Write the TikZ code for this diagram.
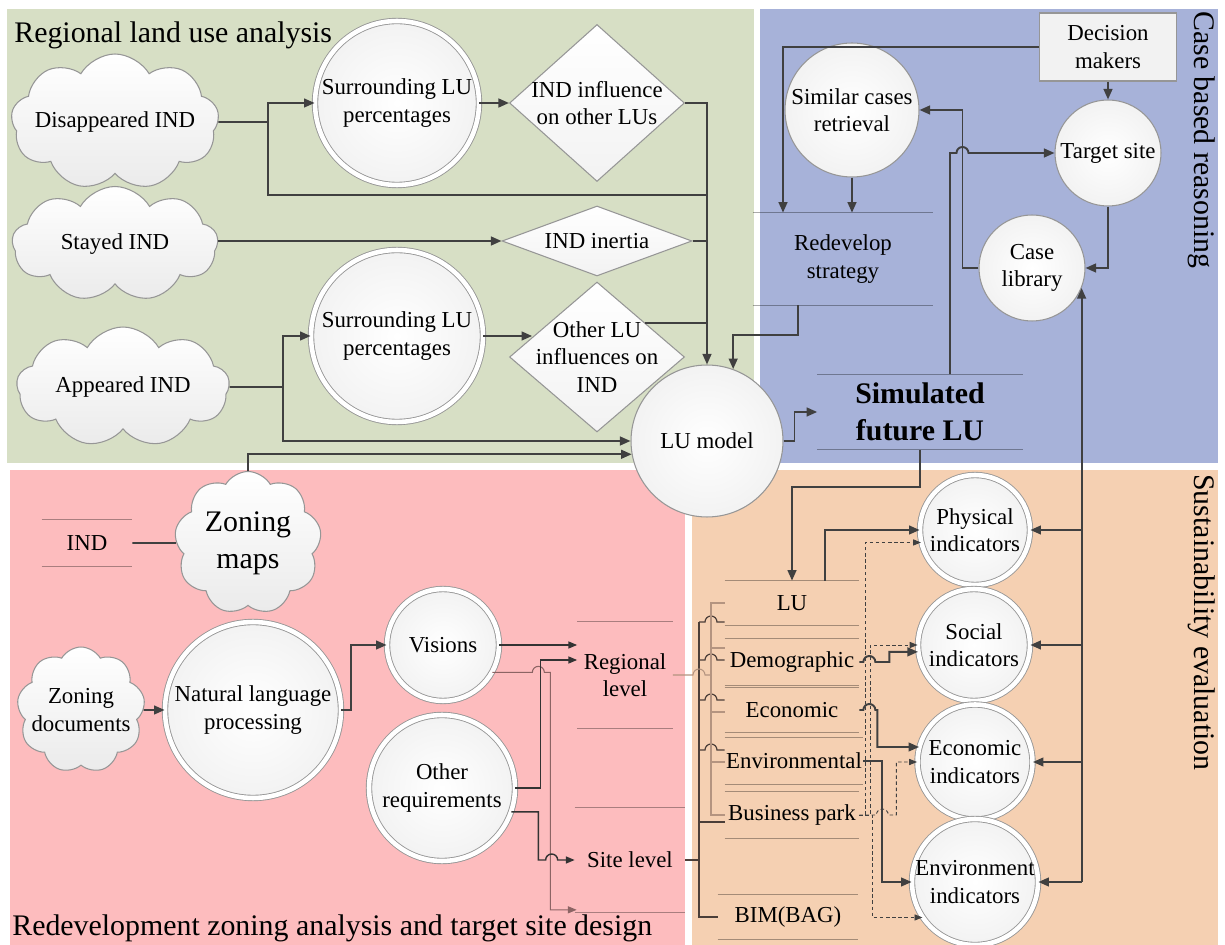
\documentclass[tikz,border=0pt]{standalone}
\usepackage{fontspec}
\setmainfont{Liberation Serif}
\usetikzlibrary{shapes.geometric,shapes.symbols,arrows.meta,calc}

\definecolor{bggreen}{RGB}{215,223,197}
\definecolor{bgblue}{RGB}{167,178,217}
\definecolor{bgpink}{RGB}{253,188,190}
\definecolor{bgpeach}{RGB}{245,208,178}
\definecolor{rim}{RGB}{150,150,150}
\definecolor{ink}{RGB}{64,64,64}
\definecolor{faint}{RGB}{180,148,128}
\definecolor{dim}{RGB}{75,62,56}
\definecolor{rose}{RGB}{140,100,100}

\newcommand\bodyfs{\fontsize{13}{15.5}\selectfont}
\newcommand\headfs{\fontsize{17}{21}\selectfont}
% two rules above and below a data-store node
\newcommand\storelines[1]{\draw[storeln] (#1.north west) -- (#1.north east) (#1.south west) -- (#1.south east);}

\begin{document}
\begin{tikzpicture}[x=0.02cm,y=-0.02cm,
  paneltitle/.style={font=\headfs, inner sep=0pt},
  lbl/.style={align=center, font=\bodyfs, inner sep=0pt},
  ring/.style={circle, draw=rim, line width=0.5pt, double=white, double distance=2.6pt,
               inner color=white, outer color=black!5, inner sep=0pt},
  disc/.style={circle, draw=rim, line width=0.6pt, inner color=white, outer color=black!5, inner sep=0pt},
  dia/.style={diamond, draw=rim, line width=0.6pt, top color=white, bottom color=black!5, inner sep=0pt},
  puff/.style={cloud, cloud puffs=9, cloud puff arc=120, cloud ignores aspect, draw=rim,
               line width=0.6pt, top color=white, bottom color=black!8, inner sep=0pt},
  store/.style={rectangle, inner sep=0pt, align=center, font=\bodyfs},
  storeln/.style={draw=black, opacity=0.33, line width=0.6pt},
  conn/.style={draw=ink, line width=1.1pt},
  arr/.style={conn, -{Triangle[length=6pt,width=5pt]}},
  parr/.style={draw=black!80, line width=0.8pt, -{Triangle[length=5pt,width=4pt]}},
  farr/.style={draw=rose, line width=0.6pt, -{Triangle[length=5pt,width=4pt]}},
  sconn/.style={draw=dim, line width=0.7pt},
  lconn/.style={draw=faint, line width=0.6pt},
  darr/.style={draw=ink, line width=0.5pt, dash pattern=on 2pt off 1.5pt, -{Triangle[length=4.5pt,width=3.5pt]}},
]
\fill[white] (0,0) rectangle (1225,945);
\useasboundingbox (0,0) rectangle (1225,945);

% panels
\fill[bggreen] (7,9) rectangle (754,463);
\fill[bgblue] (760,9) rectangle (1218,463);
\fill[bgpink] (10,470) rectangle (685,945);
\fill[bgpeach] (692,470) rectangle (1218,945);

% panel titles
\node[paneltitle, anchor=base west] (hra) at (14,43) {Regional land use analysis};
\node[paneltitle, anchor=base west] (hrz) at (12,935) {Redevelopment zoning analysis and target site design};
\node[paneltitle, anchor=base west, rotate=-90] (hcb) at (1194,11) {Case based reasoning};
\node[paneltitle, anchor=base west, rotate=-90] (hse) at (1194,474) {Sustainability evaluation};

% clouds
\node[puff, minimum width=4.16cm, minimum height=2.72cm, label={[lbl]center:Disappeared IND}] (dis) at (115,122) {};
\node[puff, minimum width=4.12cm, minimum height=2.3cm, label={[lbl]center:Stayed IND}] (sty) at (115,244) {};
\node[puff, minimum width=4.26cm, minimum height=2.4cm, label={[lbl]center:Appeared IND}] (app) at (123,387) {};
\node[puff, minimum width=2.94cm, minimum height=2.86cm, label={[lbl,font=\headfs]center:{Zoning\\maps}}] (zmap) at (248,543) {};
\node[puff, minimum width=2.56cm, minimum height=2.52cm, label={[lbl]center:{Zoning\\documents}}] (zdoc) at (81,710) {};

% circles
\node[ring, minimum size=3.28cm, label={[lbl]center:{Surrounding LU\\percentages}}] (sur1) at (397,103) {};
\node[ring, minimum size=3.44cm, label={[lbl]center:{Surrounding LU\\percentages}}] (sur2) at (397,336) {};
\node[disc, minimum size=2.68cm, label={[lbl]center:{Similar cases\\retrieval}}] (sim) at (852,110) {};
\node[disc, minimum size=2.12cm, label={[lbl]center:Target site}] (tgt) at (1108,153) {};
\node[disc, minimum size=2.12cm, label={[lbl]center:{Case\\library}}] (clib) at (1032,268) {};
\node[ring, minimum size=2.2cm, label={[lbl]center:{Physical\\indicators}}] (phy) at (975,530) {};
\node[ring, minimum size=2.24cm, label={[lbl]center:{Social\\indicators}}] (soc) at (974,645) {};
\node[ring, minimum size=2.3cm, label={[lbl]center:{Economic\\indicators}}] (eco) at (975,762) {};
\node[ring, minimum size=2.52cm, label={[lbl]center:{Environment\\indicators}}] (env) at (975,882) {};
\node[ring, minimum size=3.52cm, label={[lbl]center:{Natural language\\processing}}] (nlp) at (253,710) {};
\node[ring, minimum size=2.24cm, label={[lbl]center:Visions}] (vis) at (443,645) {};
\node[ring, minimum size=2.92cm, label={[lbl]center:{Other\\requirements}}] (oreq) at (442,788) {};

% decisions
\node[dia, minimum width=3.5cm, minimum height=3.14cm, label={[lbl]center:{IND influence\\on other LUs}}] (dinf) at (597,103) {};
\node[dia, minimum width=3.8cm, minimum height=1.4cm, label={[lbl]center:IND inertia}] (dine) at (597,241) {};
\node[dia, minimum width=3.5cm, minimum height=3.0cm, label={[lbl]center:{Other LU\\influences on\\IND}}] (doth) at (597,357) {};

% external entity
\node[rectangle, draw=rim, fill=black!5, line width=0.6pt, minimum width=2.74cm, minimum height=1.36cm,
      align=center, font=\bodyfs] (dm) at (1108,47) {Decision\\makers};

% data stores
\node[store, minimum width=3.6cm, minimum height=1.84cm] (rds) at (843,259) {Redevelop\\strategy};
\node[store, minimum width=4.1cm, minimum height=1.5cm, font=\headfs\bfseries] (sfl) at (920,412) {Simulated\\future LU};
\node[store, minimum width=1.8cm, minimum height=0.92cm] (ind) at (87,543) {IND};
\node[store, minimum width=1.9cm, minimum height=2.12cm] (rgl) at (625,675) {Regional\\level};
\node[store, minimum width=2.2cm, minimum height=2.1cm] (stl) at (630,860) {Site level};
\node[store, minimum width=2.68cm, minimum height=0.88cm] (slu) at (792,603) {LU};
\node[store, minimum width=2.68cm, minimum height=0.92cm] (sdem) at (792,662) {Demographic};
\node[store, minimum width=2.68cm, minimum height=0.9cm] (seco) at (792,710) {Economic};
\node[store, minimum width=2.76cm, minimum height=0.94cm] (senv) at (794,761) {Environmental};
\node[store, minimum width=2.68cm, minimum height=0.92cm] (sbp) at (792,815) {Business park};
\node[store, minimum width=2.8cm, minimum height=0.9cm] (sbim) at (788,917) {BIM(BAG)};
\foreach \s in {rds,sfl,ind,rgl,stl,slu,sdem,seco,senv,sbp,sbim} {\storelines{\s}}

% LU model sits across all panels
\node[disc, minimum size=3.04cm, label={[lbl]center:LU model}] (lum) at (707,441) {};

% regional land use flows
\coordinate (jd) at (268,122);
\draw[conn] (dis.east) -- (jd);
\draw[arr] (jd) |- (sur1.west);
\draw[conn] (jd) |- (lum.north |- 0,195);
\draw[arr] (sur1.east) -- (dinf.west);
\draw[arr] (dinf.east) -| (lum.north);
\draw[arr] (sty.east |- dine.west) -- (dine.west);
\draw[conn] (dine.east) -- (dine.east -| lum.north);
\draw[conn] (doth.35) -- (doth.35 -| lum.north);
\coordinate (ja) at (283,387);
\draw[conn] (app.east) -- (ja);
\draw[arr] (ja) |- (sur2.west);
\draw[arr] (ja) |- (lum.west);
\draw[arr] (sur2.east) -- (sur2.east -| doth.163);
\draw[arr] (zmap.north) |- (lum.190);
\draw[conn] (ind.east) -- (zmap.west);

% case based reasoning flows
\draw[arr] (dm.west) -| ($(rds.north)+(-60,0)$);
\draw[arr] (sim.south) -- (sim.south |- rds.north);
\draw[arr] (dm.south) -- (tgt.north);
\draw[arr] (tgt.south) |- (clib.east);
\draw[arr] (clib.west) -- ++(-16,0) |- (sim.east);
\draw[arr] ($(rds.south)+(-45,0)$) -- ++(0,30) -| (lum.70);
\draw[arr] (lum.east) -- ++(11,0) |- (sfl.west);
\draw[arr] ($(sfl.north)+(30,0)$) |- ($(tgt.west)+(-98,0)$) arc[start angle=180,end angle=0,radius=0.12cm] -- (tgt.west);
\draw[arr] (sfl.south) -- ++(0,37) -| (slu.north);
\draw[arr] ($(slu.north)+(33,0)$) |- (phy.west);

% indicator bus back to the case library
\draw[arr] (clib.-22 |- env.east) -- (clib.-22);
\foreach \t in {phy,soc,eco,env} {\draw[arr] (clib.-22 |- \t.east) -- (\t.east);}

% zoning flows
\draw[arr] (zdoc.east) -- (nlp.west);
\draw[arr] (nlp.east) -- ++(10,0) |- (vis.west);
\draw[parr] (vis.east) -- (vis.east -| rgl.west);
\draw[farr] (vis.-29) -- ++(40,0) arc[start angle=180,end angle=0,radius=0.12cm] -- ++(6,0) |- ($(stl.south west)+(2,-3)$);
\draw[parr] (oreq.east) -- ++(25,0) |- ($(rgl.west)+(0,-15)$);
\draw[parr] (oreq.-19) -- ++(27,0) |- ($(stl.west)+(-29,0)$) arc[start angle=180,end angle=0,radius=0.12cm] -- (stl.west);

% site level bus
\draw[sconn] (stl.east) -- ++(14,0);
\draw[sconn] (699,622) -- (699,917) -- (sbim.west);
\foreach \s/\y in {slu/622,sdem/660,seco/700,senv/750}
  {\draw[sconn] (699,\y) -- (705,\y) arc[start angle=180,end angle=0,radius=0.12cm] -- (\s.west |- 0,\y);}
\draw[sconn] (699,822) -- (sbp.west |- 0,822);

% regional level bus
\draw[lconn] (rgl.east) -- (693,675) arc[start angle=180,end angle=0,radius=0.12cm] -- (711,675);
\draw[lconn] (slu.west) -- (711,603) -- (711,815) -- (sbp.west);
\foreach \s/\y in {sdem/648,seco/712,senv/762} {\draw[lconn] (711,\y) -- (\s.west |- 0,\y);}

% business park feeds every indicator
\draw[darr] (sbp.east) -- ++(6,0) |- (phy.193);
\draw[darr] (sbp.east) -- ++(11,0) |- (soc.west);
\draw[darr] (sbp.east) -- ++(13,0) |- (env.214);
\draw[darr] (sbp.east) -- ++(17,0) arc[start angle=180,end angle=0,radius=0.12cm] -- ++(8,0) |- (eco.west);

% data to indicators
\draw[arr] (sdem.east) -- ++(4,0) arc[start angle=180,end angle=0,radius=0.12cm] -- ++(14,0) |- (soc.187);
\draw[arr] (seco.east) -- ++(4,0) arc[start angle=180,end angle=0,radius=0.12cm] -- ++(2,0) |- (eco.165);
\draw[arr] (senv.east) -- ++(19,0) |- (env.west);
\end{tikzpicture}
\end{document}
